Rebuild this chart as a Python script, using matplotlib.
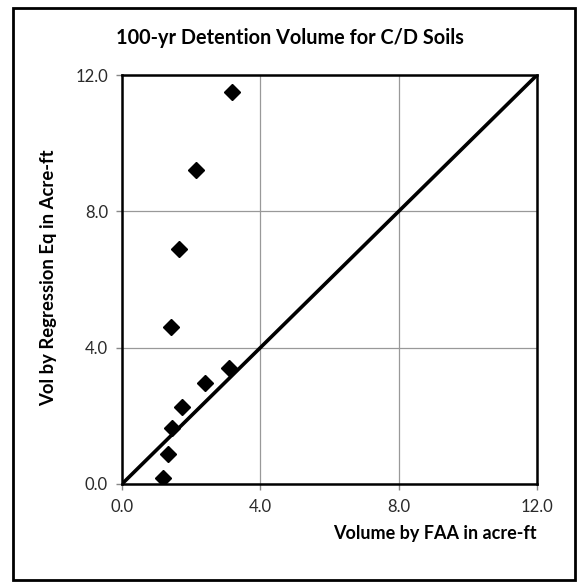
import matplotlib
matplotlib.use("Agg")
import matplotlib.pyplot as plt
from matplotlib.patches import Rectangle

# Volumes (acre-ft)
faa_vol = [1.19, 1.34, 1.46, 1.74, 2.39, 3.09, 1.43, 1.64, 2.13, 3.19]
reg_vol = [0.17, 0.87, 1.63, 2.27, 2.95, 3.39, 4.60, 6.89, 9.21, 11.51]
line_pts = [0.0, 12.0]
ticks = [0.0, 4.0, 8.0, 12.0]

plt.rcParams['font.family'] = ['Lato', 'DejaVu Sans']

fig = plt.figure(figsize=(5.86, 5.88), dpi=100)
ax = fig.add_axes([0.2082, 0.1769, 0.7082, 0.6955])

# 1:1 line and the points
ax.plot(line_pts, line_pts, color='black', lw=2.6, zorder=3)
ax.plot(faa_vol, reg_vol, linestyle='none', marker='D', markersize=8,
        color='black', zorder=4)

ax.set_xlim(0, 12)
ax.set_ylim(0, 12)
ax.set_xticks(ticks)
ax.set_yticks(ticks)
ax.set_xticklabels(['%.1f' % t for t in ticks])
ax.set_yticklabels(['%.1f' % t for t in ticks])
ax.grid(True, color='#999999', lw=0.9)
ax.set_axisbelow(True)
for s in ax.spines.values():
  s.set_linewidth(1.8)
  s.set_color('black')
ax.tick_params(axis='both', labelsize=12, color='#888888', labelcolor='#2a2a2a',
               length=4, width=1)
ax.tick_params(axis='x', pad=7)
ax.tick_params(axis='y', pad=6)

fig.text(0.495, 0.935, '100-yr Detention Volume for C/D Soils', ha='center',
         va='center', fontsize=14.3, fontweight='bold')
fig.text(0.916, 0.092, 'Volume by FAA in acre-ft', ha='right', va='center',
         fontsize=13, fontweight='bold')
fig.text(0.083, 0.527, 'Vol by Regression Eq in Acre-ft', ha='center',
         va='center', rotation=90, fontsize=13.3, fontweight='bold')

# outer chart frame
fig.patches.append(Rectangle((0.022, 0.014), 0.959, 0.973, transform=fig.transFigure,
                             fill=False, edgecolor='black', lw=2))

fig.savefig('out.png', dpi=100)
